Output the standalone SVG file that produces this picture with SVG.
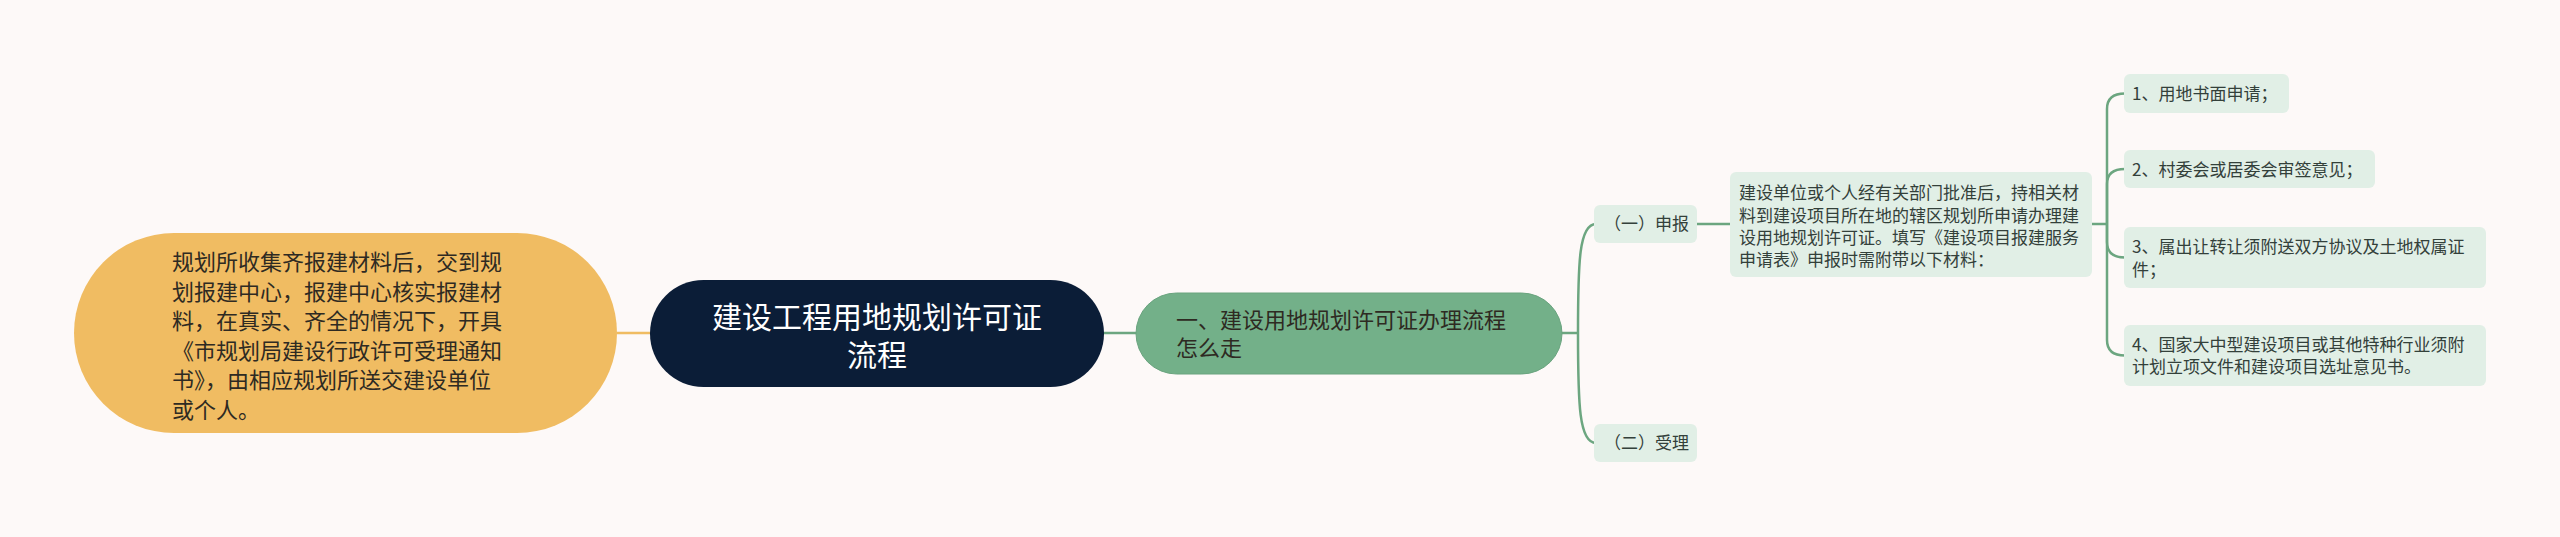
<svg xmlns="http://www.w3.org/2000/svg" width="2560" height="537" viewBox="0 0 2560 537">
<style>
text{font-family:"Noto Sans CJK SC","Noto Sans",sans-serif;}
.t22{font-size:22px;fill:#2e2a22;}
.t17{font-size:17px;fill:#33403a;}
.root{font-size:30px;fill:#ffffff;}
.leaf{fill:#e1efe6;}
.gl{fill:none;stroke:#6ca680;stroke-width:2.5;}
.yl{fill:none;stroke:#f0bc62;stroke-width:2.5;}
</style>
<rect width="2560" height="537" fill="#fdf9f8"/>
<g id="connectors">
<path class="yl" d="M617,333 H652"/>
<path class="gl" d="M1102,333 H1138"/>
<path class="gl" d="M1560,333 H1578"/>
<path class="gl" d="M1578,333 C1578,262 1579,224 1596,224"/>
<path class="gl" d="M1578,333 C1578,404 1579,443 1596,443"/>
<path class="gl" d="M1697,224 H1731"/>
<path class="gl" d="M2091,224 H2107"/>
<path class="gl" d="M2107,224 V109 Q2107,93.5 2125,93.5"/>
<path class="gl" d="M2107,224 V184 Q2107,169 2125,169"/>
<path class="gl" d="M2107,224 V242 Q2107,257.5 2125,257.5"/>
<path class="gl" d="M2107,224 V340 Q2107,355.5 2125,355.5"/>
</g>
<g id="node-left">
<rect x="74" y="233" width="543" height="200" rx="100" fill="#f0bc62"/>
<text class="t22" x="172"><tspan x="172" y="270">规划所收集齐报建材料后，交到规</tspan><tspan x="172" y="299.6">划报建中心，报建中心核实报建材</tspan><tspan x="172" y="329.2">料，在真实、齐全的情况下，开具</tspan><tspan x="172" y="358.8">《市规划局建设行政许可受理通知</tspan><tspan x="172" y="388.4">书》，由相应规划所送交建设单位</tspan><tspan x="172" y="418">或个人。</tspan></text>
</g>
<g id="node-root">
<rect x="650" y="280" width="454" height="107" rx="53.5" fill="#0b1d37"/>
<text class="root" text-anchor="middle"><tspan x="877" y="328">建设工程用地规划许可证</tspan><tspan x="877" y="366">流程</tspan></text>
</g>
<g id="node-main">
<rect x="1136" y="293" width="426" height="81" rx="40.5" fill="#73b089" stroke="#6aa47f" stroke-width="1"/>
<text class="t22"><tspan x="1176" y="328">一、建设用地规划许可证办理流程</tspan><tspan x="1176" y="356">怎么走</tspan></text>
</g>
<g id="node-shenbao">
<rect class="leaf" x="1594" y="205" width="103" height="38" rx="6"/>
<text class="t17" x="1604" y="230">（一）申报</text>
</g>
<g id="node-shouli">
<rect class="leaf" x="1594" y="424" width="103" height="38" rx="6"/>
<text class="t17" x="1604" y="449">（二）受理</text>
</g>
<g id="node-desc">
<rect class="leaf" x="1730" y="172" width="362" height="105" rx="6"/>
<text class="t17"><tspan x="1739" y="199.3">建设单位或个人经有关部门批准后，持相关材</tspan><tspan x="1739" y="221.6">料到建设项目所在地的辖区规划所申请办理建</tspan><tspan x="1739" y="244">设用地规划许可证。填写《建设项目报建服务</tspan><tspan x="1739" y="266.3">申请表》申报时需附带以下材料：</tspan></text>
</g>
<g id="node-item1">
<rect class="leaf" x="2124" y="74" width="165" height="39" rx="6"/>
<text class="t17" x="2132" y="100">1、用地书面申请；</text>
</g>
<g id="node-item2">
<rect class="leaf" x="2124" y="150" width="251" height="38" rx="6"/>
<text class="t17" x="2132" y="175.5">2、村委会或居委会审签意见；</text>
</g>
<g id="node-item3">
<rect class="leaf" x="2124" y="227" width="362" height="61" rx="6"/>
<text class="t17"><tspan x="2132" y="253">3、属出让转让须附送双方协议及土地权属证</tspan><tspan x="2132" y="275.6">件；</tspan></text>
</g>
<g id="node-item4">
<rect class="leaf" x="2124" y="325" width="362" height="61" rx="6"/>
<text class="t17"><tspan x="2132" y="351">4、国家大中型建设项目或其他特种行业须附</tspan><tspan x="2132" y="373.3">计划立项文件和建设项目选址意见书。</tspan></text>
</g>
</svg>
